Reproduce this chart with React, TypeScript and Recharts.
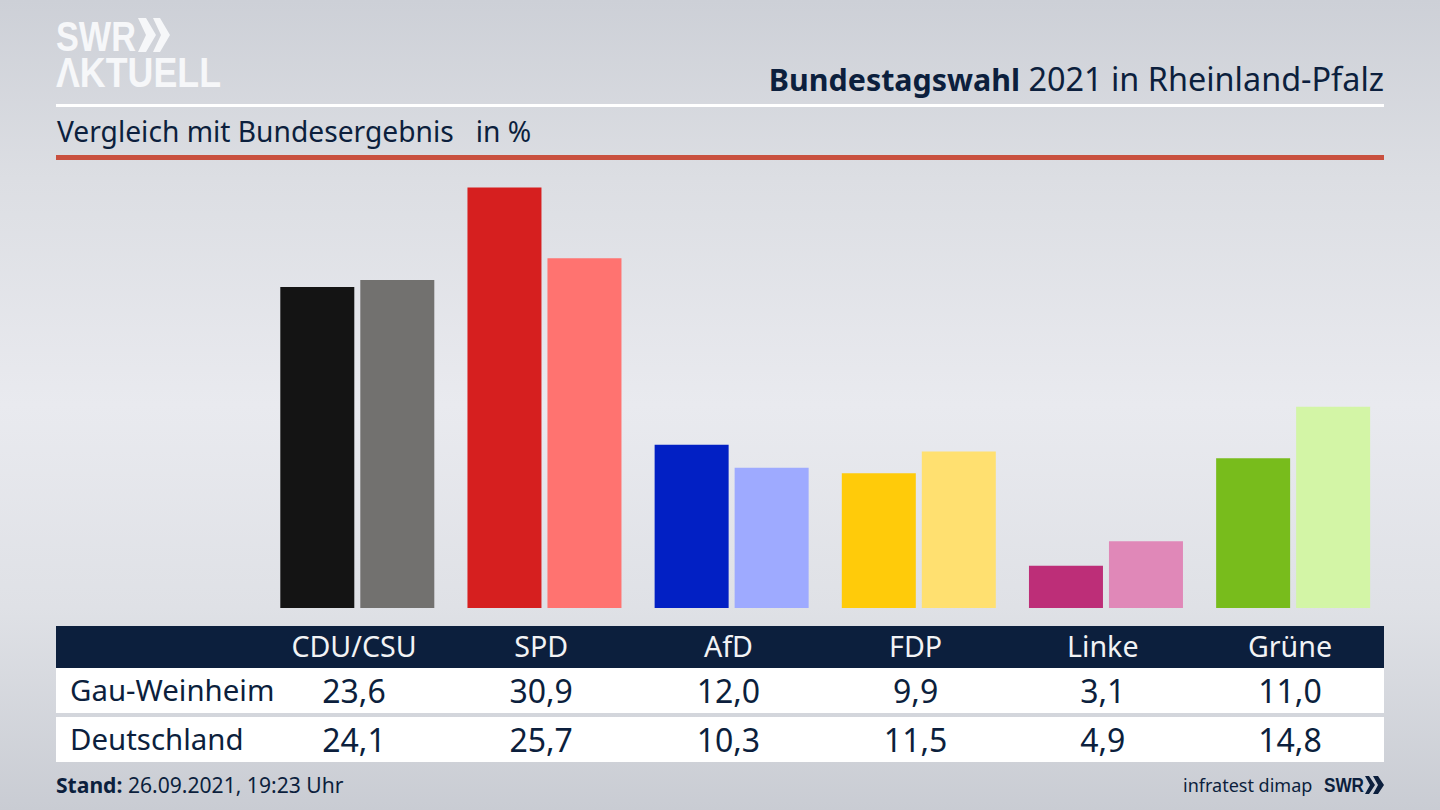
import React from "react";
import { BarChart, Bar, XAxis, YAxis, Cell } from "recharts";

const parties = ["CDU/CSU", "SPD", "AfD", "FDP", "Linke", "Grüne"];
const local = [23.6, 30.9, 12.0, 9.9, 3.1, 11.0];
const national = [24.1, 25.7, 10.3, 11.5, 4.9, 14.8];
const localColors = ["#141414", "#d61f1f", "#0220c4", "#ffcb0a", "#bd2e78", "#78bc1c"];
const nationalColors = ["#72716f", "#ff7370", "#9eaaff", "#ffe070", "#e088b8", "#d3f5a6"];
const localName = "Gau-Weinheim";
const nationalName = "Deutschland";

const tableData = parties.map((party, i) => ({ party, local: local[i], national: national[i] }));
const fmt = (v: number) => v.toFixed(1).replace(".", ",");

const FONT = "'Noto Sans', sans-serif";
const NAVY = "#0c1f3d";
const colCenter = (i: number) => 354 + i * 187.2;

const abs = (s: React.CSSProperties): React.CSSProperties => ({ position: "absolute", whiteSpace: "nowrap", ...s });

function Centered({ x, y, size, color, children }: { x: number; y: number; size: number; color: string; children: React.ReactNode }) {
  return (
    <div style={abs({ left: x - 100, width: 200, top: y, textAlign: "center", fontSize: size, lineHeight: "30px", color })}>
      {children}
    </div>
  );
}

function Logo() {
  return (
    <svg style={abs({ left: 0, top: 0 })} width={260} height={100}>
      <text x={56} y={51} fontFamily="'Liberation Sans', sans-serif" fontWeight={700} fontSize={42} fill="#f6f7f9" textLength={80} lengthAdjust="spacingAndGlyphs">SWR</text>
      <path d="M138 18h8l10 17-10 17h-8l8-17z" fill="#f6f7f9" />
      <path d="M153 18h7l10 17-10 17h-7l8-17z" fill="#f6f7f9" />
      <text x={56} y={87} fontFamily="'Liberation Sans', sans-serif" fontWeight={700} fontSize={42} fill="#f6f7f9" textLength={165} lengthAdjust="spacingAndGlyphs">ΛKTUELL</text>
    </svg>
  );
}

export default function App() {
  return (
    <div
      style={{
        position: "absolute", left: 0, top: 0, width: 1440, height: 810, overflow: "hidden", fontFamily: FONT,
        background: "linear-gradient(180deg,#cdd0d7 0%,#dcdee3 22%,#e9eaef 50%,#dfe1e6 75%,#c9ccd3 100%)",
      }}
    >
      <Logo />
      <div style={abs({ right: 56, top: 56, fontSize: 32.4, lineHeight: "44px", color: NAVY })}>
        <b style={{ fontSize: 30.4 }}>Bundestagswahl</b> 2021 in Rheinland-Pfalz
      </div>
      <div style={abs({ left: 56, top: 104, width: 1328, height: 3, background: "#fff" })} />
      <div style={abs({ left: 57, top: 111, fontSize: 28.2, lineHeight: "40px", color: NAVY, whiteSpace: "pre" })}>
        {"Vergleich mit Bundesergebnis   in %"}
      </div>
      <div style={abs({ left: 56, top: 155, width: 1328, height: 5, background: "#c9503f" })} />

      <div style={abs({ left: 0, top: 0 })}>
        <BarChart
          width={1440}
          height={810}
          data={tableData}
          margin={{ top: 159, bottom: 202, left: 263.3, right: 53.7 }}
          barSize={74}
          barGap={6}
        >
          <XAxis dataKey="party" hide />
          <YAxis hide domain={[0, 33]} />
          <Bar dataKey="local" isAnimationActive={false}>
            {localColors.map((c) => <Cell key={c} fill={c} />)}
          </Bar>
          <Bar dataKey="national" isAnimationActive={false}>
            {nationalColors.map((c) => <Cell key={c} fill={c} />)}
          </Bar>
        </BarChart>
      </div>

      <div style={abs({ left: 56, top: 626, width: 1328, height: 42, background: NAVY })} />
      <div style={abs({ left: 56, top: 668, width: 1328, height: 45, background: "#fff" })} />
      <div style={abs({ left: 56, top: 717, width: 1328, height: 45, background: "#fff" })} />

      <div style={abs({ left: 70, top: 675, fontSize: 29.4, lineHeight: "30px", color: NAVY })}>{localName}</div>
      <div style={abs({ left: 70, top: 724, fontSize: 29.4, lineHeight: "30px", color: NAVY })}>{nationalName}</div>
      {tableData.map((d, i) => (
        <React.Fragment key={d.party}>
          <Centered x={colCenter(i)} y={631} size={28.6} color="#f2f3f5">{d.party}</Centered>
          <Centered x={colCenter(i)} y={676} size={32} color={NAVY}>{fmt(d.local)}</Centered>
          <Centered x={colCenter(i)} y={725} size={32} color={NAVY}>{fmt(d.national)}</Centered>
        </React.Fragment>
      ))}

      <div style={abs({ left: 56, top: 770, fontSize: 21.1, lineHeight: "30px", color: NAVY })}>
        <b>Stand:</b> 26.09.2021, 19:23 Uhr
      </div>
      <div style={abs({ left: 1183, top: 770, fontSize: 18, lineHeight: "30px", color: NAVY })}>infratest dimap</div>
      <svg style={abs({ left: 1320, top: 770 })} width={70} height={30}>
        <text x={4} y={22} fontFamily="'Liberation Sans', sans-serif" fontWeight={700} fontSize={20} fill={NAVY} textLength={40} lengthAdjust="spacingAndGlyphs">SWR</text>
        <path d="M45 6h4l6 9-6 9h-4l5-9z" fill={NAVY} />
        <path d="M53 6h5l6 9-6 9h-5l5-9z" fill={NAVY} />
      </svg>
    </div>
  );
}
